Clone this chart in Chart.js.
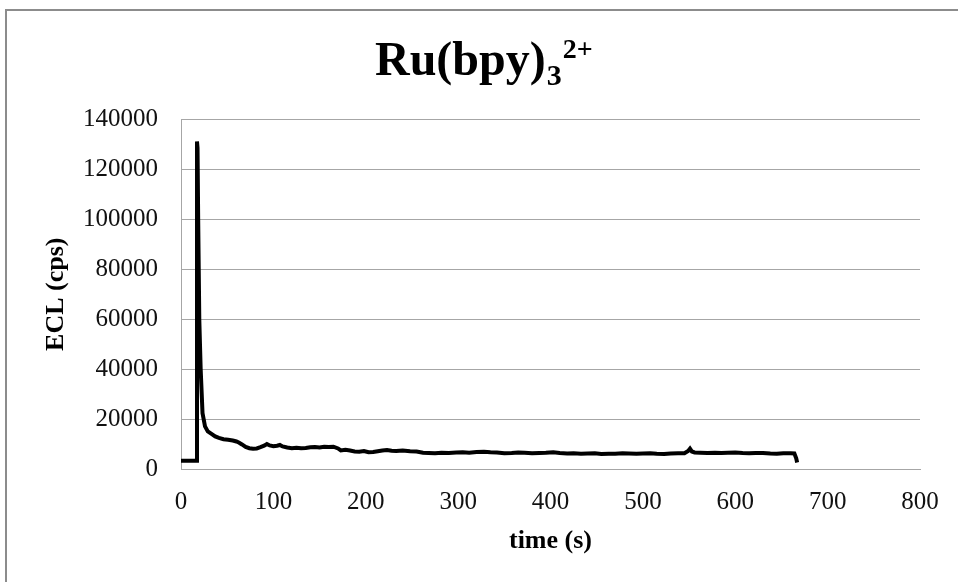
<!DOCTYPE html>
<html lang="en">
<head>
  <meta charset="UTF-8">
  <title>Ru(bpy)3 2+ ECL</title>
  <style>
    html, body {
      margin: 0;
      padding: 0;
      background: #fff;
    }
    #wrap {
      position: relative;
      width: 958px;
      height: 582px;
    }
    #frame {
      position: absolute;
      left: 5px;
      top: 9px;
      right: 0;
      bottom: 0;
      border-top: 2px solid #8c8c8c;
      border-left: 2px solid #8c8c8c;
      pointer-events: none;
    }
  </style>
</head>
<body>
<div id="wrap">
  <canvas id="eclChart" width="958" height="582"></canvas>
  <div id="frame"></div>
</div>

<script src="https://cdn.jsdelivr.net/npm/chart.js"></script>
<script>
  // values
  const timeS = [
    0, 16, 16.8, 17.3, 17.9, 18.6, 19.8, 21.3, 23.3, 26, 29, 33, 37, 41, 46, 51, 56, 60, 63, 66,
    70, 74, 78, 82, 86, 90, 93, 96, 100, 104, 107, 110, 115, 120, 125, 130, 135, 140, 145, 150,
    155, 160, 165, 170, 173, 178, 183, 188, 193, 198, 203, 208, 213, 218, 223, 228, 233, 240, 248, 255,
    262, 268, 275, 282, 290, 298, 305, 312, 320, 328, 335, 342, 350, 358, 365, 372, 380, 388, 395, 403,
    410, 418, 425, 433, 440, 448, 455, 463, 470, 478, 485, 493, 500, 508, 515, 523, 530, 538, 545, 549,
    551, 553, 556, 562, 570, 578, 585, 592, 600, 608, 615, 622, 630, 638, 645, 652, 660, 664, 666, 667
  ];
  const eclCps = [
    3500, 3500, 3500, 131000, 128500, 100000, 60000, 40000, 22500, 17200, 15200, 14200, 13200, 12600, 12100, 11900, 11600, 11200, 10700, 10000,
    9000, 8500, 8300, 8400, 8900, 9500, 10200, 9600, 9300, 9500, 9800, 9200, 8800, 8500, 8700, 8500, 8600, 8900, 9000, 8800,
    9100, 9000, 9100, 8400, 7600, 7900, 7600, 7200, 7100, 7400, 6900, 7000, 7300, 7600, 7800, 7500, 7400, 7600, 7300, 7200,
    6700, 6600, 6500, 6700, 6600, 6800, 6900, 6700, 7000, 7100, 6900, 6800, 6500, 6600, 6800, 6700, 6500, 6600, 6700, 6900,
    6600, 6400, 6500, 6300, 6400, 6500, 6200, 6300, 6300, 6500, 6400, 6300, 6400, 6500, 6300, 6200, 6400, 6500, 6500, 7400,
    8300, 7200, 6800, 6700, 6600, 6700, 6600, 6700, 6800, 6600, 6500, 6600, 6600, 6400, 6300, 6500, 6500, 6400, 4500, 2800
  ];
  const xTicks = [0, 100, 200, 300, 400, 500, 600, 700, 800];
  const yTicks = [0, 20000, 40000, 60000, 80000, 100000, 120000, 140000];

  const serif = "'Liberation Serif', 'Times New Roman', serif";
  const gridGray = '#a6a6a6';

  // title with subscript / superscript, drawn on the canvas
  const formulaTitle = {
    id: 'formulaTitle',
    afterDraw(chart) {
      const ctx = chart.ctx;
      ctx.save();
      ctx.fillStyle = '#000';
      ctx.textAlign = 'left';
      ctx.textBaseline = 'alphabetic';
      let x = 375;
      ctx.font = 'bold 48px ' + serif;
      ctx.fillText('Ru(bpy)', x, 75);
      x += ctx.measureText('Ru(bpy)').width + 1;
      ctx.font = 'bold 30px ' + serif;
      ctx.fillText('3', x, 85);
      x += ctx.measureText('3').width + 1;
      ctx.font = 'bold 28px ' + serif;
      ctx.fillText('2+', x, 58);
      ctx.restore();
    }
  };

  const points = timeS.map((t, i) => ({ x: t, y: eclCps[i] }));

  new Chart(document.getElementById('eclChart').getContext('2d'), {
    type: 'line',
    data: {
      datasets: [{
        label: 'ECL',
        data: points,
        borderColor: '#000',
        borderWidth: 4,
        pointRadius: 0,
        tension: 0,
        fill: false
      }]
    },
    options: {
      responsive: false,
      animation: false,
      layout: { padding: { top: 119, right: 38, left: 0, bottom: 0 } },
      plugins: {
        legend: { display: false },
        tooltip: { enabled: false }
      },
      scales: {
        x: {
          type: 'linear',
          min: 0,
          max: 800,
          afterBuildTicks: s => { s.ticks = xTicks.map(v => ({ value: v })); },
          afterFit: s => { s.height = 112.5; },
          grid: { display: false, drawTicks: false },
          border: { display: true, color: gridGray, width: 1 },
          ticks: {
            padding: 18,
            color: '#111',
            maxRotation: 0,
            font: { family: serif, size: 25 }
          },
          title: {
            display: true,
            text: 'time (s)',
            color: '#000',
            padding: { top: 0, bottom: 25 },
            font: { family: serif, size: 26, weight: 'bold' }
          }
        },
        y: {
          min: 0,
          max: 140000,
          afterBuildTicks: s => { s.ticks = yTicks.map(v => ({ value: v })); },
          afterFit: s => { s.width = 181; },
          grid: { color: gridGray, lineWidth: 1, drawTicks: false },
          border: { display: true, color: gridGray, width: 1 },
          ticks: {
            padding: 23,
            color: '#111',
            font: { family: serif, size: 25 },
            callback: v => String(v)
          },
          title: {
            display: true,
            text: 'ECL (cps)',
            color: '#000',
            padding: { top: 41, bottom: 0 },
            font: { family: serif, size: 26, weight: 'bold' }
          }
        }
      }
    },
    plugins: [formulaTitle]
  });
</script>
</body>
</html>
